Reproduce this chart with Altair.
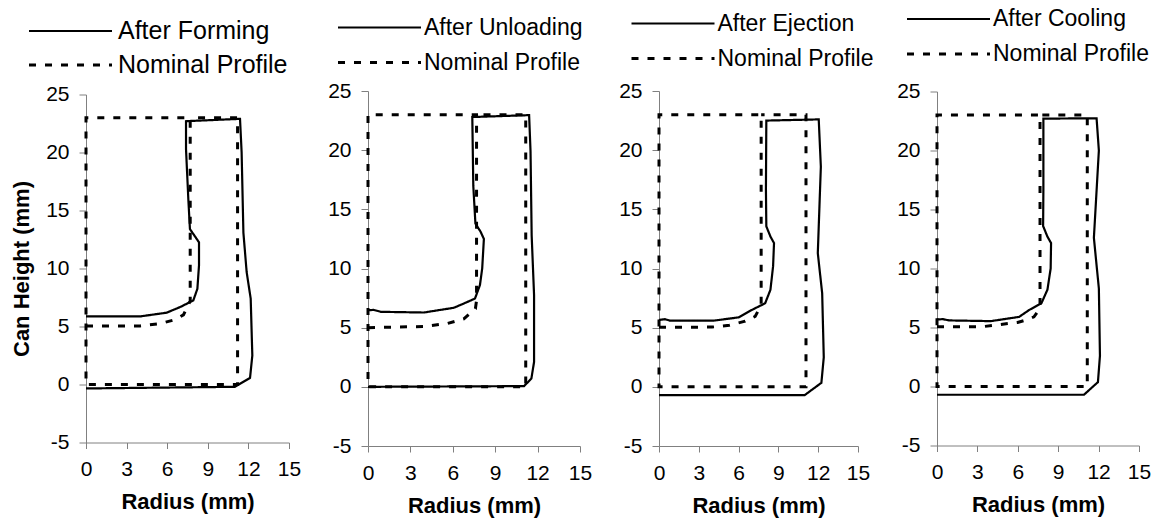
import altair as alt
import pandas as pd

# ---- data ----
titles = ["After Forming", "After Unloading", "After Ejection", "After Cooling"]
nominal_name = "Nominal Profile"

r1 = [0, 4.0, 5.96, 7.0, 7.93, 8.23, 8.35, 8.35, 7.68, 7.56, 7.39, 7.39, 11.38, 11.5, 11.63, 11.87, 12.17, 12.29, 12.12, 11.0, 0]
h1 = [5.87, 5.87, 6.19, 6.7, 7.25, 8.25, 10.26, 12.26, 13.4, 16.0, 20.3, 22.7, 22.9, 20.0, 13.1, 9.7, 7.4, 2.5, 0.57, -0.2, -0.34]
nr1 = [0, 4.0, 5.5, 6.6, 7.2, 7.7, 7.7, 0, 0, 11.2, 11.2, 7.7]
nh1 = [5.05, 5.05, 5.25, 5.6, 6.0, 7.2, 23, 23, 0, 0, 23, 23]

r2 = [0, 0.4, 0.9, 3.95, 6.07, 6.78, 7.57, 7.92, 8.08, 8.2, 7.97, 7.6, 7.45, 7.38, 11.4, 11.5, 11.58, 11.75, 11.75, 11.56, 11.04, 0]
h2 = [6.48, 6.5, 6.34, 6.28, 6.68, 7.04, 7.46, 8.6, 10.0, 12.5, 13.1, 13.8, 17.0, 22.8, 22.96, 19.9, 12.8, 7.75, 2.1, 0.7, 0.06, 0.0]
nr2 = [0, 3.95, 5.6, 6.78, 7.6, 7.68, 7.68, 0, 0, 11.16, 11.16, 7.68]
nh2 = [5.0, 5.1, 5.35, 5.75, 6.6, 7.3, 23, 23, 0, 0, 23, 23]

r3 = [0, 0.45, 0.83, 4.1, 6.0, 7.0, 8.0, 8.4, 8.6, 8.67, 8.4, 8.09, 8.06, 8.09, 12.04, 12.2, 11.97, 12.3, 12.42, 12.24, 10.98, 0]
h3 = [5.65, 5.72, 5.59, 5.59, 5.87, 6.5, 7.06, 8.2, 10.2, 12.15, 12.7, 13.56, 16.7, 22.5, 22.6, 18.6, 11.3, 7.9, 2.5, 0.34, -0.7, -0.7]
nr3 = [0, 4.0, 5.3, 6.5, 7.25, 7.7, 7.7, 0, 0, 11.08, 11.08, 7.7]
nh3 = [5.03, 5.05, 5.2, 5.55, 5.95, 6.9, 23, 23, 0, 0, 23, 23]

r4 = [0, 0.42, 0.91, 4.0, 6.1, 6.84, 7.75, 8.2, 8.44, 8.47, 8.2, 7.88, 7.9, 7.9, 11.85, 12.02, 11.65, 12.02, 12.1, 11.95, 10.91, 0]
h4 = [5.68, 5.71, 5.6, 5.54, 5.9, 6.48, 7.05, 8.2, 10.0, 12.16, 12.7, 13.6, 16.6, 22.7, 22.73, 20.0, 12.6, 8.3, 2.6, 0.37, -0.7, -0.7]
nr4 = [0, 3.3, 5.98, 6.8, 7.2, 7.65, 7.65, 0, 0, 11.16, 11.16, 7.65]
nh4 = [5.06, 5.06, 5.43, 5.7, 5.9, 6.6, 23, 23, 0, 0, 23, 23]

x_ticks = [0, 3, 6, 9, 12, 15]
y_ticks = [-5, 0, 5, 10, 15, 20, 25]

panels = [(r1, h1, nr1, nh1), (r2, h2, nr2, nh2), (r3, h3, nr3, nh3), (r4, h4, nr4, nh4)]
widths = [203, 212, 199, 202]
heights = [348, 355, 355, 354]
legend_pos = [(-28, -76), (0, -75), (2.5, -79), (0, -84)]
legend_font = [25, 23, 23, 23]
legend_rowpad = [8, 11, 11, 11]
legend_offset = [35, 33, 33, 33]

FONT = "Liberation Sans"
LABEL_EXPR = "datum.value < 0 ? '-' + format(-datum.value, 'd') : format(datum.value, 'd')"


def panel(i):
    r, h, nr, nh = panels[i]
    name = titles[i]
    rows = []
    for k, (a, b) in enumerate(zip(r, h)):
        rows.append({"series": name, "idx": k, "r": a, "h": b})
    for k, (a, b) in enumerate(zip(nr, nh)):
        rows.append({"series": nominal_name, "idx": k, "r": a, "h": b})
    df = pd.DataFrame(rows)
    lx, ly = legend_pos[i]
    yaxis = alt.Axis(values=y_ticks, grid=False, title="Can Height (mm)" if i == 0 else None,
                     titlePadding=12, labelFlush=False, labelExpr=LABEL_EXPR,
                     tickSize=7, labelPadding=10)
    xaxis = alt.Axis(values=x_ticks, grid=False, title="Radius (mm)", titlePadding=12,
                     labelFlush=False, tickSize=6, labelPadding=10)
    return alt.Chart(df).mark_line(color="black").encode(
        x=alt.X("r:Q", scale=alt.Scale(domain=[0, 15], nice=False, zero=False), axis=xaxis),
        y=alt.Y("h:Q", scale=alt.Scale(domain=[-5, 25], nice=False, zero=False), axis=yaxis),
        strokeDash=alt.StrokeDash(
            "series:N",
            scale=alt.Scale(domain=[name, nominal_name], range=[[1, 0], [7, 9]]),
            legend=alt.Legend(orient="none", legendX=lx, legendY=ly, title=None,
                              symbolType="M-41.5,0H41.5", symbolSize=4,
                              symbolStrokeWidth=2.4, symbolStrokeColor="black",
                              labelOffset=legend_offset[i], labelFontSize=legend_font[i],
                              labelFont=FONT, labelColor="black",
                              rowPadding=legend_rowpad[i], padding=0, labelLimit=400),
        ),
        strokeWidth=alt.StrokeWidth(
            "series:N",
            scale=alt.Scale(domain=[name, nominal_name], range=[2.2, 3]),
            legend=None,
        ),
        detail="series:N",
        order=alt.Order("idx:Q"),
    ).properties(width=widths[i], height=heights[i])


chart = alt.hconcat(*[panel(i) for i in range(4)], spacing=79, bounds="flush", center=True).resolve_scale(
    strokeDash="independent", strokeWidth="independent"
).resolve_legend(strokeDash="independent").configure_view(stroke=None).configure_axis(
    domainColor="#808080", tickColor="#808080", labelFontSize=21,
    labelColor="black", labelFont=FONT, titleFont=FONT, titleFontSize=22,
    titleFontWeight="bold", titleColor="black"
).properties(padding={"left": 10, "top": 7, "right": 2, "bottom": 2}, background="white")

chart.save("out.html", embed_options={"renderer": "svg", "actions": False})
